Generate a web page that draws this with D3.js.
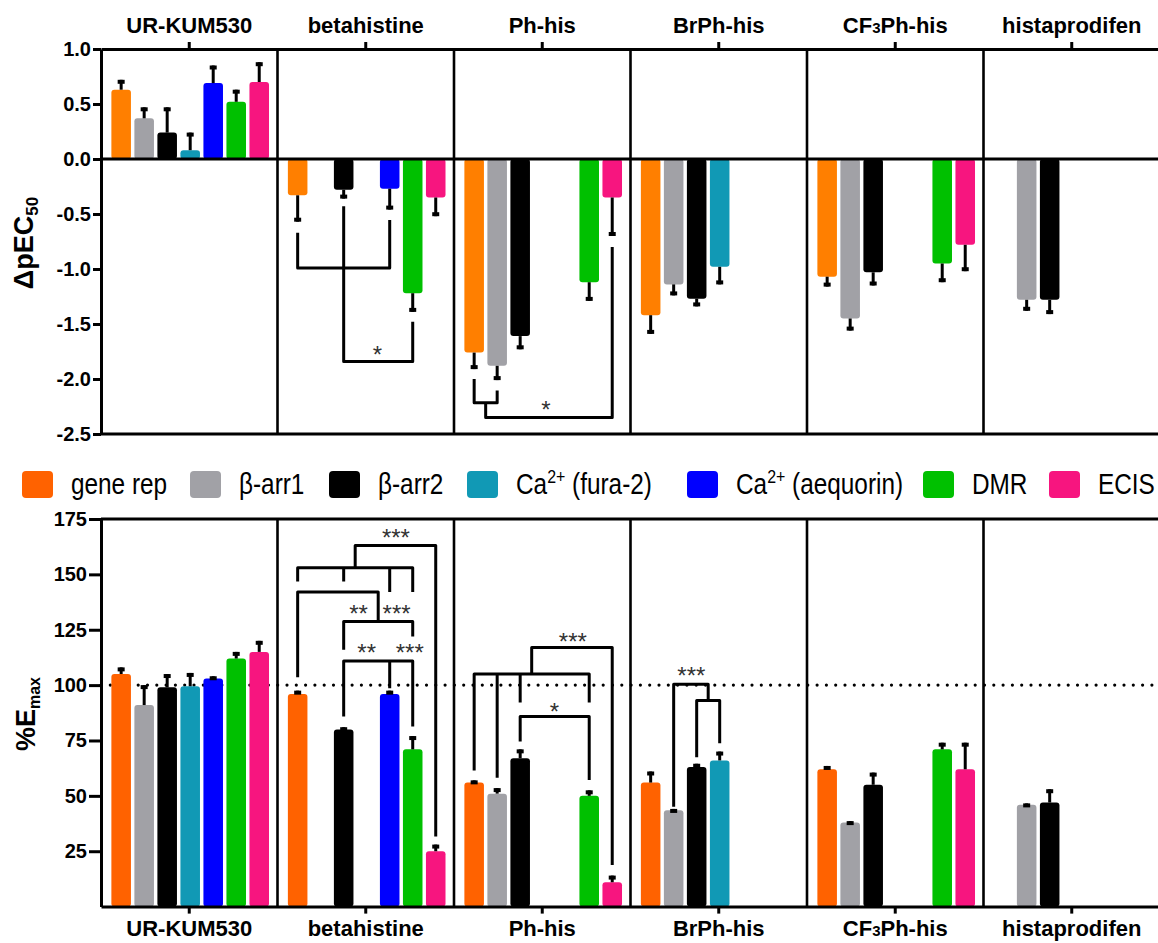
<!DOCTYPE html>
<html>
<head>
<meta charset="utf-8">
<script src="https://cdn.jsdelivr.net/npm/d3@7"></script>
<style>
body { margin: 0; background: #fff; }
svg { display: block; font-family: "Liberation Sans", Arial, sans-serif; }
</style>
</head>
<body>
<svg id="drawing_region"></svg>
<script>
// ---- data ----
const categories = ['UR-KUM530', 'betahistine', 'Ph-his', 'BrPh-his', 'CF3Ph-his', 'histaprodifen'];
const series = ['gene rep', 'β-arr1', 'β-arr2', 'Ca2+ (fura-2)', 'Ca2+ (aequorin)', 'DMR', 'ECIS'];

// delta pEC50, rows = categories, columns = series (null = not measured)
const dpEC50 = [
    [0.63, 0.37, 0.24, 0.08, 0.69, 0.52, 0.70],
    [-0.33, null, -0.28, null, -0.27, -1.22, -0.35],
    [-1.76, -1.88, -1.61, null, null, -1.12, -0.35],
    [-1.42, -1.14, -1.27, -0.98, null, null, null],
    [-1.07, -1.45, -1.03, null, null, -0.95, -0.78],
    [null, -1.28, -1.28, null, null, null, null]
];
const dpEC50_err = [
    [0.09, 0.10, 0.23, 0.16, 0.16, 0.11, 0.18],
    [0.24, null, 0.08, null, 0.19, 0.17, 0.17],
    [0.15, 0.13, 0.12, null, null, 0.17, 0.35],
    [0.17, 0.10, 0.07, 0.16, null, null, null],
    [0.09, 0.11, 0.12, null, null, 0.17, 0.24],
    [null, 0.10, 0.13, null, null, null, null]
];

// %Emax
const emax = [
    [105, 91, 99, 99.5, 103, 112, 115],
    [96, null, 80, null, 96, 71, 25],
    [56, 51, 67, null, null, 50, 11],
    [56, 43.5, 63, 66, null, null, null],
    [62, 38, 55, null, null, 71, 62],
    [null, 46, 47, null, null, null, null]
];
const emax_err = [
    [3, 9, 6, 6, 1, 3, 5],
    [1.5, null, 1, null, 1.5, 6, 3],
    [1, 2.5, 4, null, null, 2.5, 3],
    [5, 0.6, 1.5, 4, null, null, null],
    [1.5, 0.6, 5.5, null, null, 3, 12],
    [null, 0.6, 6, null, null, null, null]
];

const topTicks = [1.0, 0.5, 0.0, -0.5, -1.0, -1.5, -2.0, -2.5];
const botTicks = [25, 50, 75, 100, 125, 150, 175];

// significance brackets: [category, level, [[series position, leg end], ...]]
const topBrackets = [
    [1, -0.99, [[0, -0.67], [4, -0.555]]],
    [1, -1.84, [[2, -0.43], [5, -1.48]]],
    [2, -2.215, [[0, -2.0], [1, -2.105]]],
    [2, -2.35, [[0.5, -2.215], [6, -0.80]]]
];
const topStars = [[1, 3.47, -1.72, '*'], [2, 3.12, -2.22, '*']];

const botBrackets = [
    [1, 110.9, [[2, 85.8], [4, 98.6], [5, 81.3]]],
    [1, 128.7, [[2, 116], [5, 122]]],
    [1, 142, [[0, 103.6], [3.5, 128.7]]],
    [1, 153, [[0, 146.8], [2, 146.8], [4, 142], [5, 142]]],
    [1, 163, [[2.5, 153], [6, 31.6]]],
    [2, 85.8, [[2, 74.5], [5, 57.2]]],
    [2, 105, [[0, 61.4], [1, 58.2], [2, 92.2], [5, 92.2]]],
    [2, 117, [[2.5, 105], [6, 18.8]]],
    [3, 93, [[2, 67.4], [3, 73.8]]],
    [3, 100.4, [[1, 45.1], [2.5, 93]]]
];
const botStars = [
    [1, 3.0, 117.4, '**'], [1, 4.87, 117.4, '***'],
    [1, 2.65, 135.2, '**'], [1, 4.3, 135.2, '***'],
    [1, 4.27, 169.1, '***'],
    [2, 3.49, 90.6, '*'], [2, 4.29, 122.3, '***'],
    [3, 1.77, 106.9, '***']
];

const topColors = ['#ff7f00', '#a1a1a6', '#000000', '#1199b5', '#0000ff', '#00c000', '#f7157f'];
const botColors = ['#ff6200', '#a1a1a6', '#000000', '#1199b5', '#0000ff', '#00c000', '#f7157f'];

// ---- layout ----
const svg = d3.select('#drawing_region')
    .attr('width', 1158)
    .attr('height', 943);

const xCat = d3.scaleBand()
    .domain(categories)
    .range([101, 1160]);

const xSer = d3.scaleBand()
    .domain(d3.range(series.length))
    .range([0, xCat.bandwidth()])
    .paddingInner(0.15)
    .paddingOuter(0.41)
    .align(0.55);

// centre of a (possibly fractional) series position inside a category
const xc = (ci, si) => xCat(categories[ci]) + xSer(0) + si * xSer.step() + xSer.bandwidth() / 2;

const yTop = d3.scaleLinear().domain([-2.5, 1]).range([434, 49]);
const yBot = d3.scaleLinear().domain([0, 175]).range([906.6, 519]);

function cells(vals, errs) {
    return vals.flatMap((row, ci) => row.map((v, si) => ({ci, si, v, e: errs[ci][si]})))
        .filter(d => d.v !== null);
}

function drawBars(g, y, vals, errs, colors) {
    const data = cells(vals, errs);
    const bw = xSer.bandwidth();

    g.selectAll('rect.bar')
        .data(data)
        .join('rect')
        .attr('class', 'bar')
        .attr('x', d => xCat(categories[d.ci]) + xSer(d.si))
        .attr('y', d => Math.min(y(d.v), y(0)))
        .attr('width', bw)
        .attr('height', d => Math.abs(y(d.v) - y(0)))
        .attr('rx', 3)
        .attr('fill', d => colors[d.si]);

    const end = d => d.v + (d.v < 0 ? -d.e : d.e);

    g.selectAll('line.err')
        .data(data)
        .join('line')
        .attr('class', 'err')
        .attr('x1', d => xc(d.ci, d.si))
        .attr('x2', d => xc(d.ci, d.si))
        .attr('y1', d => y(d.v))
        .attr('y2', d => y(end(d)))
        .attr('stroke', '#000')
        .attr('stroke-width', 3);

    g.selectAll('rect.cap')
        .data(data)
        .join('rect')
        .attr('class', 'cap')
        .attr('x', d => xc(d.ci, d.si) - 3.5)
        .attr('y', d => d.v < 0 ? y(end(d)) - 4 : y(end(d)))
        .attr('width', 7)
        .attr('height', 4)
        .attr('fill', '#000');
}

function drawFrame(g, y, ticks, fmt, tickLen, catAxis, catY) {
    const [yb, yt] = y.range();

    // panel dividers
    g.selectAll('line.div')
        .data(categories.slice(1))
        .join('line')
        .attr('class', 'div')
        .attr('x1', d => xCat(d)).attr('x2', d => xCat(d))
        .attr('y1', yt).attr('y2', yb)
        .attr('stroke', '#000')
        .attr('stroke-width', 2.6);

    // the other horizontal border
    const other = catY === yt ? yb : yt;
    g.append('line')
        .attr('x1', 101).attr('x2', 1160)
        .attr('y1', other).attr('y2', other)
        .attr('stroke', '#000').attr('stroke-width', 3);

    g.append('g')
        .attr('transform', `translate(0, ${catY})`)
        .call(catAxis(xCat).tickSize(7).tickSizeOuter(0).tickFormat(''))
        .call(a => a.selectAll('path, line').attr('stroke-width', 3));

    g.append('g')
        .attr('transform', 'translate(101, 0)')
        .call(d3.axisLeft(y).tickValues(ticks).tickFormat(fmt).tickSize(tickLen).tickPadding(2).tickSizeOuter(0))
        .call(a => a.selectAll('path, line').attr('stroke-width', 3))
        .call(a => a.selectAll('text')
            .attr('font-family', '"Liberation Sans", Arial, sans-serif')
            .attr('font-size', 20)
            .attr('font-weight', 'bold')
            .attr('fill', '#000'));
}

function drawBrackets(g, y, brackets, stars) {
    g.selectAll('path.br')
        .data(brackets)
        .join('path')
        .attr('class', 'br')
        .attr('d', ([ci, level, legs]) => {
            const s = legs.slice().sort((a, b) => a[0] - b[0]);
            const f = s[0], l = s[s.length - 1];
            let p = `M${xc(ci, f[0])},${y(f[1])}V${y(level)}H${xc(ci, l[0])}V${y(l[1])}`;
            s.slice(1, -1).forEach(m => { p += `M${xc(ci, m[0])},${y(level)}V${y(m[1])}`; });
            return p;
        })
        .attr('fill', 'none')
        .attr('stroke', '#000')
        .attr('stroke-width', 3)
        .attr('stroke-linejoin', 'round');

    const fs = 24;
    g.selectAll('text.star')
        .data(stars)
        .join('text')
        .attr('class', 'star')
        .attr('x', d => xc(d[0], d[1]))
        .attr('y', d => y(d[2]) + fs * 0.6)
        .attr('text-anchor', 'middle')
        .attr('font-size', fs)
        .attr('fill', '#333')
        .text(d => d[3]);
}

function catLabel(sel, name) {
    const m = name.match(/^CF3(.*)$/);
    if (m) {
        sel.append('tspan').text('CF');
        sel.append('tspan').attr('font-size', 15).text('3');
        sel.append('tspan').text(m[1]);
    } else {
        sel.text(name);
    }
}

// ---- top panel: delta pEC50 ----
const topPanel = svg.append('g');
drawBars(topPanel, yTop, dpEC50, dpEC50_err, topColors);
drawFrame(topPanel, yTop, topTicks, d => d.toFixed(1), 8, d3.axisTop, 49);
topPanel.append('line')
    .attr('x1', 101).attr('x2', 1160)
    .attr('y1', yTop(0)).attr('y2', yTop(0))
    .attr('stroke', '#000').attr('stroke-width', 3);
drawBrackets(topPanel, yTop, topBrackets, topStars);

topPanel.selectAll('text.cat')
    .data(categories)
    .join('text')
    .attr('class', 'cat')
    .attr('x', d => xCat(d) + xCat.bandwidth() / 2)
    .attr('y', 33)
    .attr('text-anchor', 'middle')
    .attr('font-size', 22)
    .attr('font-weight', 'bold')
    .each(function(d) { catLabel(d3.select(this), d); });

const t1 = topPanel.append('text')
    .attr('transform', 'translate(33, 243) rotate(-90)')
    .attr('text-anchor', 'middle')
    .attr('font-size', 27)
    .attr('font-weight', 'bold');
t1.append('tspan').text('ΔpEC');
t1.append('tspan').attr('font-size', 17).attr('dy', 5).text('50');

// ---- bottom panel: %Emax ----
const botPanel = svg.append('g');
botPanel.append('line')
    .attr('x1', 101).attr('x2', 1160)
    .attr('y1', yBot(100)).attr('y2', yBot(100))
    .attr('stroke', '#000')
    .attr('stroke-width', 3.2)
    .attr('stroke-linecap', 'round')
    .attr('stroke-dasharray', '0 9.3');
drawBars(botPanel, yBot, emax, emax_err, botColors);
drawFrame(botPanel, yBot, botTicks, d => d, 12, d3.axisBottom, 906.6);
drawBrackets(botPanel, yBot, botBrackets, botStars);

botPanel.selectAll('text.cat')
    .data(categories)
    .join('text')
    .attr('class', 'cat')
    .attr('x', d => xCat(d) + xCat.bandwidth() / 2)
    .attr('y', 936)
    .attr('text-anchor', 'middle')
    .attr('font-size', 22)
    .attr('font-weight', 'bold')
    .each(function(d) { catLabel(d3.select(this), d); });

const t2 = botPanel.append('text')
    .attr('transform', 'translate(35, 714) rotate(-90)')
    .attr('text-anchor', 'middle')
    .attr('font-size', 27)
    .attr('font-weight', 'bold');
t2.append('tspan').text('%E');
t2.append('tspan').attr('font-size', 16).attr('dy', 5).text('max');

// ---- legend ----
const legendX = [22, 190, 329, 467, 687, 923, 1049];
const leg = svg.append('g')
    .attr('font-size', 29);

series.forEach((s, i) => {
    const g = leg.append('g').attr('transform', `translate(${legendX[i]}, 484)`);
    g.append('rect')
        .attr('x', 0).attr('y', -13)
        .attr('width', 31).attr('height', 27)
        .attr('rx', 4)
        .attr('fill', botColors[i]);
    // condensed look: squeeze the label horizontally
    const t = g.append('text')
        .attr('transform', 'translate(49, 10) scale(0.84, 1)');
    let lift = 0;
    s.split(/(2\+)/).forEach(part => {
        if (!part) return;
        if (part === '2+') {
            t.append('tspan').attr('font-size', 19).attr('dy', -11).text(part);
            lift = 11;
        } else {
            t.append('tspan').attr('dy', lift).text(part);
            lift = 0;
        }
    });
});
</script>
</body>
</html>
